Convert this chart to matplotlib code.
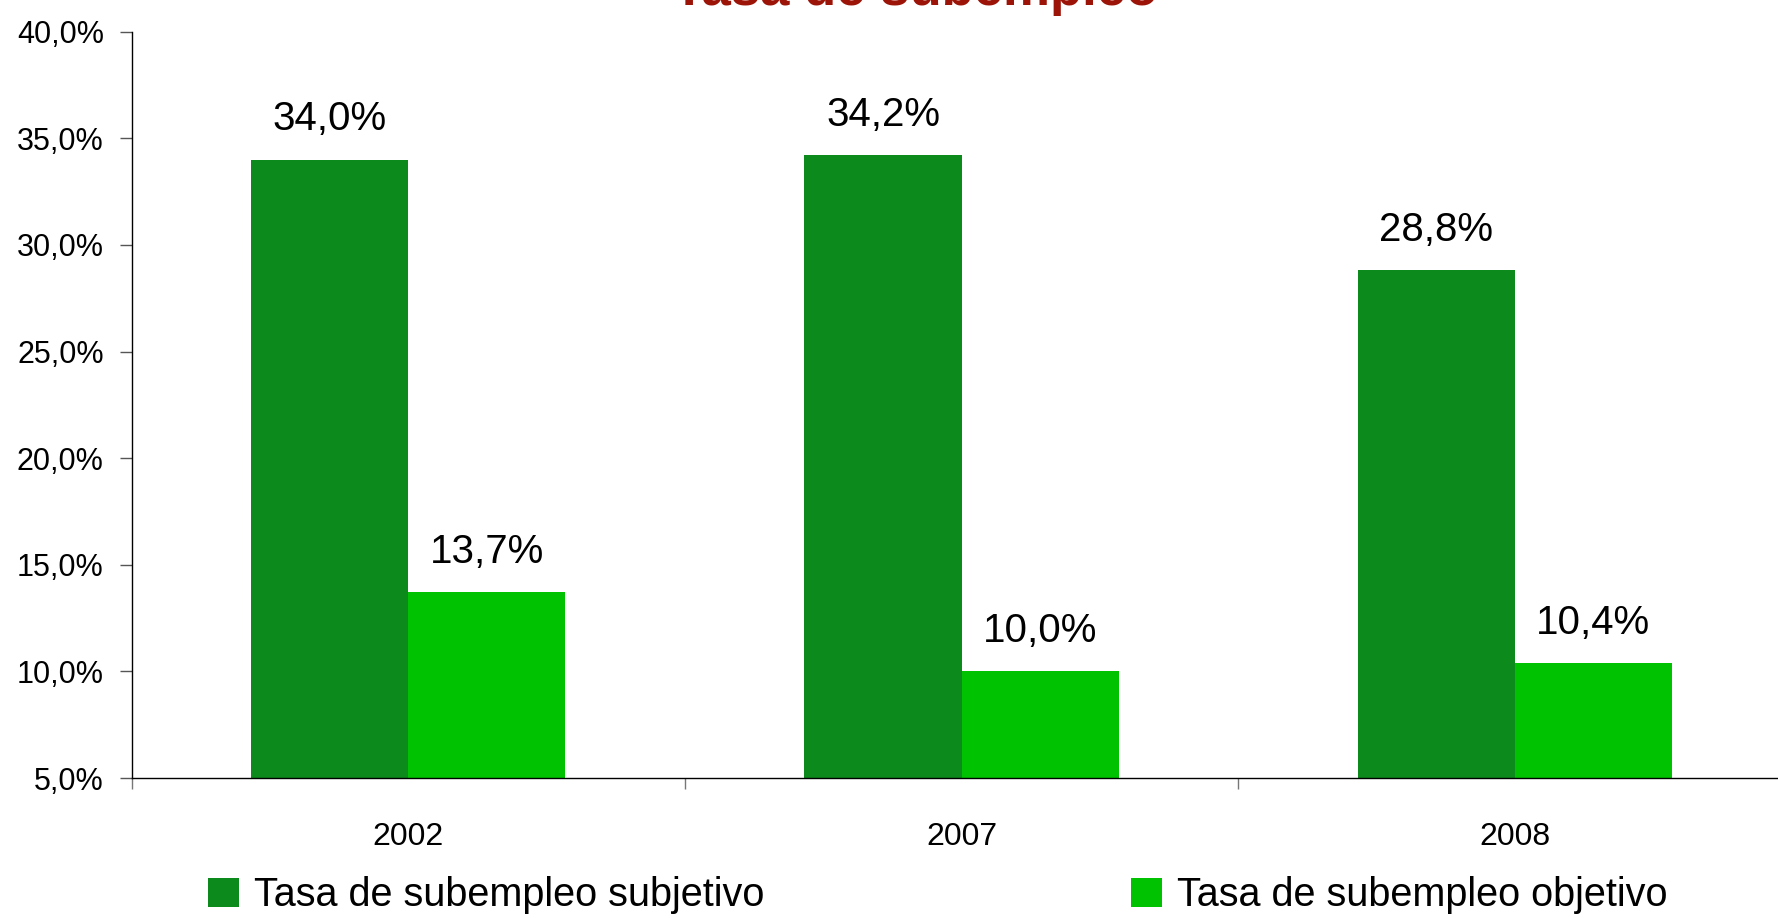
import matplotlib.pyplot as plt
from matplotlib.patches import Patch
import numpy as np

plt.rcParams['font.family'] = ['Liberation Sans', 'DejaVu Sans']

years = ['2002', '2007', '2008']
subjetivo = [34.0, 34.2, 28.8]
objetivo = [13.7, 10.0, 10.4]
series_names = ['Tasa de subempleo subjetivo', 'Tasa de subempleo objetivo']
yticks = [5, 10, 15, 20, 25, 30, 35, 40]
ytick_labels = ['5,0%', '10,0%', '15,0%', '20,0%', '25,0%', '30,0%', '35,0%', '40,0%']

dark = '#0c8a1c'
light = '#00c200'

fig = plt.figure(figsize=(17.78, 9.18), dpi=100)
ax = fig.add_axes([0.074, 0.1525, 1.0076 - 0.074, 0.9655 - 0.1525])

x = np.arange(len(years))
w = 0.284
b1 = ax.bar(x - w / 2, subjetivo, w, color=dark)
b2 = ax.bar(x + w / 2, objetivo, w, color=light)

# etiquetas de valor sobre las barras
for bars, vals in [(b1, subjetivo), (b2, objetivo)]:
    for r, v in zip(bars, vals):
        ax.annotate(f'{v:.1f}%'.replace('.', ','),
                    (r.get_x() + r.get_width() / 2, v),
                    xytext=(0, 21), textcoords='offset points',
                    ha='center', va='baseline', fontsize=29)

ax.set_ylim(5, 40)
ax.set_xlim(-0.5, 2.5)
ax.set_yticks(yticks)
ax.set_yticklabels(ytick_labels, fontsize=22)
ax.tick_params(axis='y', length=9, width=1, pad=11, color='#555555')

ax.set_xticks([-0.5, 0.5, 1.5, 2.5])
ax.set_xticklabels([])
ax.set_xticks(x, minor=True)
ax.set_xticklabels(years, minor=True, fontsize=23)
ax.tick_params(axis='x', which='major', length=8, width=1, color='#777777')
ax.tick_params(axis='x', which='minor', length=0, pad=32)

for s in ['top', 'right']:
    ax.spines[s].set_visible(False)
for s in ['left', 'bottom']:
    ax.spines[s].set_color('black')
    ax.spines[s].set_linewidth(1)

fig.text(0.515, 1 - 5 / 918, 'Tasa de subempleo', ha='center', va='baseline',
         fontsize=38, fontweight='bold', color='#9c1408')

# leyenda: dos entradas separadas, cada una en su posicion
for h, name, x0 in [(Patch(facecolor=dark), series_names[0], 208 / 1778),
                    (Patch(facecolor=light), series_names[1], 1131 / 1778)]:
    fig.legend([h], [name], loc='lower left', bbox_to_anchor=(x0, 0.004),
               frameon=False, fontsize=28.5, handlelength=0.78, handleheight=0.78,
               handletextpad=0.38, borderpad=0, borderaxespad=0)

fig.savefig('out.png', dpi=100)
